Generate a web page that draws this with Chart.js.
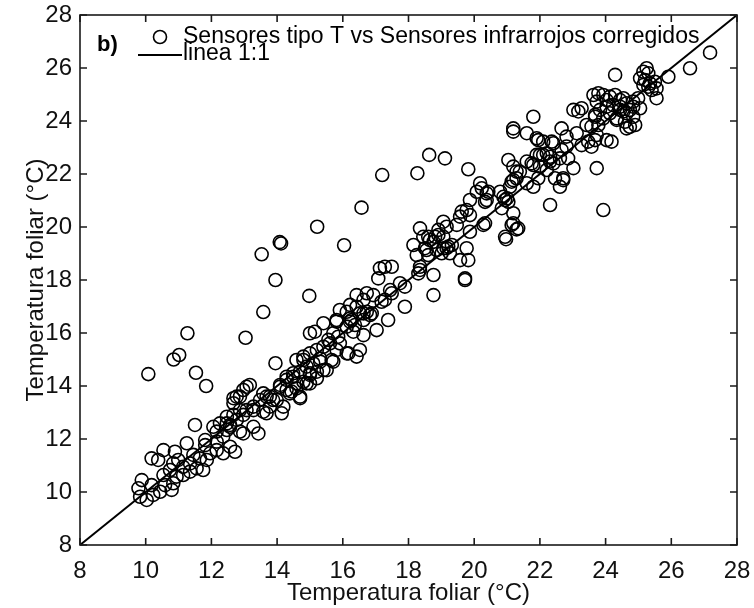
<!DOCTYPE html>
<html>
<head>
<meta charset="utf-8">
<script src="https://cdn.jsdelivr.net/npm/chart.js@4.4.1/dist/chart.umd.min.js"></script>
<style>
html,body{margin:0;padding:0;background:#fff;}
#wrap{width:754px;height:608px;}
</style>
</head>
<body>
<div id="wrap"><canvas id="c" width="754" height="608"></canvas></div>
<script>
// ---- data ----
const sensorT = [
10.08,10.85,11.02,11.27,11.53,11.84,13.04,13.58,13.95,13.53,13.95,14.08,14.12,15.22,14.98,16.04,16.57,17.2,18.27,18.63,19.11,19.82,
11.50,10.18,10.38,10.54,10.89,11.25,11.81,9.88,9.78,9.83,10.03,10.23,10.18,10.44,10.59,10.54,10.74,10.84,10.99,11.14,11.35,10.94,10.84,10.79,11.14,11.35,11.55,11.65,11.86,11.75,11.96,12.16,12.36,12.16,12.36,12.57,12.72,12.47,12.77,12.97,12.16,12.06,12.57,12.97,13.07,11.81,11.45,
15.00,15.15,15.41,15.81,16.12,15.91,16.22,16.73,16.88,16.63,17.03,16.63,16.52,16.17,15.81,15.71,
14.59,14.80,15.00,15.21,15.41,15.61,15.31,15.10,14.90,14.70,14.49,14.29,14.09,14.29,14.59,14.80,15.00,15.21,15.51,15.00,14.70,14.44,13.99,13.78,13.58,13.48,13.78,14.14,13.58,13.28,12.87,13.07,13.17,12.67,12.47,12.67,13.28,13.43,12.87,12.57,
15.86,16.12,16.32,16.27,16.52,
18.35,16.22,15.81,15.71,15.56,15.91,16.12,16.42,15.66,15.31,14.80,14.49,15.00,15.41,15.21,14.90,14.59,14.29,14.09,14.39,14.70,14.19,13.88,13.68,12.97,12.77,12.67,12.87,13.28,13.68,12.47,12.26,
17.13,17.08,17.49,17.28,16.42,16.73,16.93,16.63,16.42,16.63,16.83,16.22,16.37,19.72,18.86,19.06,19.21,19.01,19.26,18.60,18.50,18.91,18.76,18.60,
20.18,20.23,20.08,20.38,19.87,19.77,19.62,19.57,19.87,20.33,20.79,21.0,21.04,20.84,21.19,21.19,21.29,20.97,21.04,21.19,21.29,21.14,21.29,21.6,21.75,21.9,22.1,22.31,22.0,22.41,22.66,22.81,23.02,22.71,22.61,22.31,21.19,21.6,21.9,22.1,22.41,
18.35,18.45,18.65,18.15,18.25,18.55,18.81,19.06,19.06,18.91,19.16,19.32,19.16,19.47,19.87,19.77,19.57,19.82,20.28,18.35,18.30,18.76,19.72,18.76,17.74,17.89,17.44,17.28,17.49,17.89,17.38,17.18,
21.80,21.19,21.95,22.36,22.66,22.81,23.12,23.27,23.42,23.57,23.73,23.47,24.03,24.18,23.02,23.17,23.27,23.68,23.83,24.03,24.23,24.44,24.64,24.84,24.64,24.9,24.34,23.73,23.93,
21.39,21.80,22.0,22.21,22.31,22.21,22.61,22.86,22.71,22.46,21.95,21.80,21.6,21.19,21.09,20.94,20.89,20.38,20.43,21.14,21.34,20.94,20.33,
27.18,26.57,25.91,24.29,25.25,25.15,25.30,25.05,25.20,25.35,25.50,25.15,25.30,25.55,25.40,25.55,23.63,23.78,23.93,24.13,24.29,24.44,24.54,23.73,24.03,24.44,24.64,24.84,24.99,25.05,24.74,24.54,24.84,24.59,24.74,24.34,24.13,23.68,23.93,23.78,23.68,23.57
];
const sensorIR = [
14.45,15.0,15.17,15.99,14.5,14.0,15.82,16.79,14.86,18.97,18.0,19.43,19.38,20.01,17.40,19.31,20.73,21.96,22.03,22.72,22.59,22.18,
12.53,11.27,11.21,11.58,11.52,11.84,11.96,10.45,10.14,9.82,9.70,9.89,10.26,10.01,10.26,10.64,10.83,11.08,11.21,10.95,11.08,10.58,10.33,10.08,10.64,10.77,10.89,11.27,11.21,10.83,11.46,11.58,11.46,11.90,12.09,11.71,11.52,12.34,12.72,12.91,12.28,12.46,12.53,12.21,13.09,11.77,11.40,
15.99,16.05,16.37,16.49,16.80,16.87,17.06,16.80,16.74,16.49,16.11,15.92,15.36,15.23,15.36,14.92,
14.98,15.11,15.23,15.36,15.48,15.61,15.04,14.86,14.73,14.54,14.35,14.23,14.04,13.85,13.91,14.16,14.42,14.54,14.60,14.10,13.54,13.79,13.47,13.60,13.72,13.47,13.22,12.97,13.03,13.22,13.60,13.97,14.04,13.54,12.84,12.91,12.46,12.21,12.28,12.46,
15.86,16.24,16.05,16.49,16.74,
18.38,16.43,16.43,15.99,15.74,15.61,15.23,15.11,14.98,14.92,14.98,14.48,14.48,14.60,14.29,14.10,14.10,14.35,13.97,13.72,13.60,13.22,13.47,13.60,13.85,13.60,13.35,13.09,13.09,12.97,12.59,12.59,
18.44,18.06,17.50,17.25,17.43,17.50,17.43,17.25,16.99,16.74,16.68,16.55,16.30,18.06,19.13,19.20,19.26,19.01,19.01,18.94,19.20,19.70,19.44,19.63,
21.65,21.46,21.33,21.27,21.02,20.64,20.58,20.39,20.45,20.95,21.33,21.08,20.95,20.71,20.52,20.14,19.91,19.54,22.53,22.28,22.09,21.71,21.84,22.47,22.40,22.72,22.72,22.65,22.28,22.40,22.91,23.04,22.22,21.84,21.52,20.83,23.6,23.54,23.35,23.22,23.16,
19.95,19.63,19.51,19.32,18.94,19.13,19.63,19.63,20.20,19.89,20.01,19.32,19.2,20.08,19.82,19.20,18.75,18.75,20.08,18.50,18.25,18.19,18.0,17.43,17.88,17.75,17.62,18.50,18.50,16.99,16.49,17.18,
24.16,23.72,23.28,23.22,23.72,23.41,23.54,23.09,23.85,23.79,23.47,23.22,23.28,23.22,24.42,24.36,24.48,24.23,24.42,24.54,24.60,24.42,24.29,24.54,23.72,23.85,24.10,22.22,20.64,
22.09,22.34,22.72,22.78,22.47,22.15,22.59,22.59,21.77,21.84,21.84,21.52,21.65,21.77,21.52,21.02,21.14,21.02,21.33,20.08,19.95,19.63,20.14,
26.58,25.99,25.67,25.74,25.99,25.86,25.80,25.61,25.55,25.42,25.48,25.36,25.29,25.23,25.17,24.86,24.98,25.05,24.98,24.92,24.98,24.79,24.86,24.73,24.79,24.54,24.67,24.73,24.86,24.48,24.42,24.36,24.16,23.97,23.78,24.04,24.29,24.16,24.10,23.85,23.28,23.03
];
const lineX = [8, 28];
const lineY = [8, 28];
const tickValues = [8, 10, 12, 14, 16, 18, 20, 22, 24, 26, 28];
const seriesLabels = ['Sensores tipo T vs Sensores infrarrojos corregidos', 'linea 1:1'];
const axisTitle = 'Temperatura foliar (\u00B0C)';
const panelTag = 'b)';

const FONT = "'Liberation Sans', Arial, Helvetica, sans-serif";

const scatterData = sensorT.map((x, i) => ({x: x, y: sensorIR[i]}));
const oneToOne = lineX.map((x, i) => ({x: x, y: lineY[i]}));

const boxPlugin = {
  id: 'boxPlugin',
  afterDraw(chart) {
    const {ctx, chartArea: a, scales: {x, y}} = chart;
    ctx.save();
    ctx.strokeStyle = '#1a1a1a';
    ctx.lineWidth = 1.6;
    ctx.strokeRect(a.left, a.top, a.right - a.left, a.bottom - a.top);
    const L = 7;
    ctx.beginPath();
    x.ticks.forEach(t => {
      const px = x.getPixelForValue(t.value);
      ctx.moveTo(px, a.bottom); ctx.lineTo(px, a.bottom - L);
      ctx.moveTo(px, a.top); ctx.lineTo(px, a.top + L);
    });
    y.ticks.forEach(t => {
      const py = y.getPixelForValue(t.value);
      ctx.moveTo(a.left, py); ctx.lineTo(a.left + L, py);
      ctx.moveTo(a.right, py); ctx.lineTo(a.right - L, py);
    });
    ctx.stroke();

    // legend (inside axes, top-left)
    ctx.fillStyle = '#000';
    ctx.strokeStyle = '#000';
    ctx.textBaseline = 'middle';
    ctx.textAlign = 'left';
    ctx.font = 'bold 22px ' + FONT;
    ctx.fillText(panelTag, 97, 45);
    ctx.font = '23px ' + FONT;
    ctx.lineWidth = 1.6;
    ctx.beginPath();
    ctx.arc(160, 37, 6.5, 0, Math.PI * 2);
    ctx.stroke();
    ctx.fillText(seriesLabels[0], 183, 37);
    ctx.lineWidth = 2;
    ctx.beginPath();
    ctx.moveTo(138, 55); ctx.lineTo(182, 55);
    ctx.stroke();
    ctx.fillText(seriesLabels[1], 183, 54);
    ctx.restore();
  }
};

const commonTicks = {
  color: '#111',
  font: {family: FONT, size: 24},
  autoSkip: false,
  maxRotation: 0
};

function zeroPad(s) {
  s.paddingTop = 0; s.paddingBottom = 0; s.paddingLeft = 0; s.paddingRight = 0;
}

new Chart(document.getElementById('c'), {
  type: 'scatter',
  data: {
    datasets: [
      {
        label: seriesLabels[1],
        type: 'line',
        data: oneToOne,
        borderColor: '#000',
        borderWidth: 2,
        pointRadius: 0,
        fill: false,
        tension: 0
      },
      {
        label: seriesLabels[0],
        data: scatterData,
        pointStyle: 'circle',
        pointRadius: 6.5,
        pointBorderWidth: 1.6,
        borderColor: '#000',
        backgroundColor: 'rgba(0,0,0,0)',
        pointHoverRadius: 6.5
      }
    ]
  },
  options: {
    responsive: false,
    animation: false,
    events: [],
    layout: {padding: {top: 15, right: 17, left: 0, bottom: 0}},
    plugins: {legend: {display: false}, tooltip: {enabled: false}},
    scales: {
      x: {
        type: 'linear',
        min: 8, max: 28,
        afterBuildTicks: s => { s.ticks = tickValues.map(v => ({value: v})); },
        afterFit: s => { s.height = 63; zeroPad(s); },
        grid: {display: false, drawTicks: false},
        border: {display: false},
        ticks: Object.assign({}, commonTicks, {padding: 12}),
        title: {display: true, text: axisTitle, color: '#111', font: {family: FONT, size: 24}, padding: {top: 0, bottom: 0}}
      },
      y: {
        type: 'linear',
        min: 8, max: 28,
        afterBuildTicks: s => { s.ticks = tickValues.map(v => ({value: v})); },
        afterFit: s => { s.width = 80; zeroPad(s); },
        grid: {display: false, drawTicks: false},
        border: {display: false},
        ticks: Object.assign({}, commonTicks, {padding: 8}),
        title: {display: true, text: axisTitle, color: '#111', font: {family: FONT, size: 24}, padding: {top: 22, bottom: 0}}
      }
    }
  },
  plugins: [boxPlugin]
});
</script>
</body>
</html>
